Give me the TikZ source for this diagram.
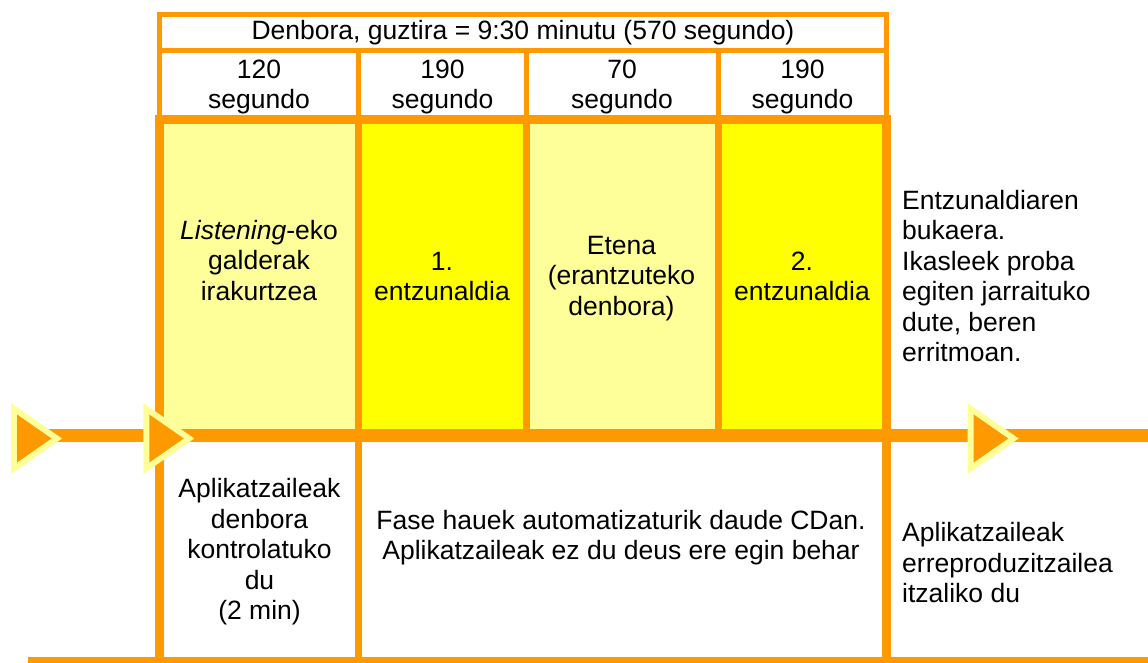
\documentclass[tikz,border=0pt]{standalone}
\usepackage{fontspec}
\setmainfont{Liberation Sans}
\definecolor{orangeA}{HTML}{FF9900}
\definecolor{paleY}{HTML}{FFFF99}
\definecolor{brightY}{HTML}{FFFF00}
\tikzset{
  gridline/.style={draw=orangeA, line cap=butt},
  txt/.style={font=\fontsize{26.5}{30.5}\selectfont, align=center, inner sep=0pt, text=black},
  hdr/.style={font=\fontsize{26.5}{29.5}\selectfont, align=center, inner sep=0pt, text=black},
  txtL/.style={txt, align=left, anchor=west},
}
\begin{document}
\begin{tikzpicture}[x=1pt,y=-1pt]
\useasboundingbox (0,0) rectangle (1148,662);
% coloured cells
\fill[paleY]   (159.5,119.5) rectangle (358.5,435.5);
\fill[brightY] (358.5,119.5) rectangle (526.5,435.5);
\fill[paleY]   (526.5,119.5) rectangle (718.5,435.5);
\fill[brightY] (718.5,119.5) rectangle (886.5,435.5);
% top table
\draw[gridline, line width=5pt] (159.5,14.5) rectangle (886.5,119.5);
\draw[gridline, line width=5pt] (159.5,50.5) -- (886.5,50.5);
\foreach \x in {358.5,526,718.5} \draw[gridline, line width=5pt] (\x,50.5) -- (\x,119.5);
% band dividers
\foreach \x in {358.5,526.5,718.5} \draw[gridline, line width=7pt] (\x,119.5) -- (\x,435.5);
\draw[gridline, line width=7pt] (358.5,435.5) -- (358.5,662);
% frame
\draw[gridline, line width=9pt] (159.5,115) -- (159.5,662);
\draw[gridline, line width=9pt] (886.5,115) -- (886.5,662);
\draw[gridline, line width=9pt] (155,119.5) -- (891,119.5);
% timeline and bottom line
\draw[gridline, line width=13pt] (30,435.5) -- (1148,435.5);
\draw[gridline, line width=6pt] (28,660) -- (1148,660);
% play triangles
\foreach \dx in {0,132.3,956.7} {
  \fill[paleY] (11+\dx,403) -- (11+\dx,474) -- (62+\dx,438.5) -- cycle;
  \fill[orangeA] (17+\dx,414.5) -- (17+\dx,462.5) -- (51.5+\dx,438.5) -- cycle;
}
% texts
\node[txt] (title) at (523,32.3) {Denbora, guztira = 9:30 minutu (570 segundo)};
\node[hdr] (s1) at (259,86.8) {120\\segundo};
\node[hdr] (s2) at (442.5,86.8) {190\\segundo};
\node[hdr] (s3) at (622,86.8) {70\\segundo};
\node[hdr] (s4) at (802.5,86.8) {190\\segundo};
\node[txt] (b1) at (259,260.5) {\textit{Listening}-eko\\galderak\\irakurtzea};
\node[txt] (b2) at (442,276.5) {1.\\entzunaldia};
\node[txt] (b3) at (621.5,278.6) {Etena\\(erantzuteko\\denbora)};
\node[txt] (b4) at (802,276.5) {2.\\entzunaldia};
\node[txtL] (bR) at (902,276) {Entzunaldiaren\\bukaera.\\Ikasleek proba\\egiten jarraituko\\dute, beren\\erritmoan.};
\node[txt] (l1) at (259.5,551.8) {Aplikatzaileak\\denbora\\kontrolatuko\\du\\(2 min)};
\node[txt] (l2) at (621,537.6) {Fase hauek automatizaturik daude CDan.\\Aplikatzaileak ez du deus ere egin behar};
\node[txtL] (lR) at (902,563) {Aplikatzaileak\\erreproduzitzailea\\itzaliko du};
\end{tikzpicture}
\end{document}
